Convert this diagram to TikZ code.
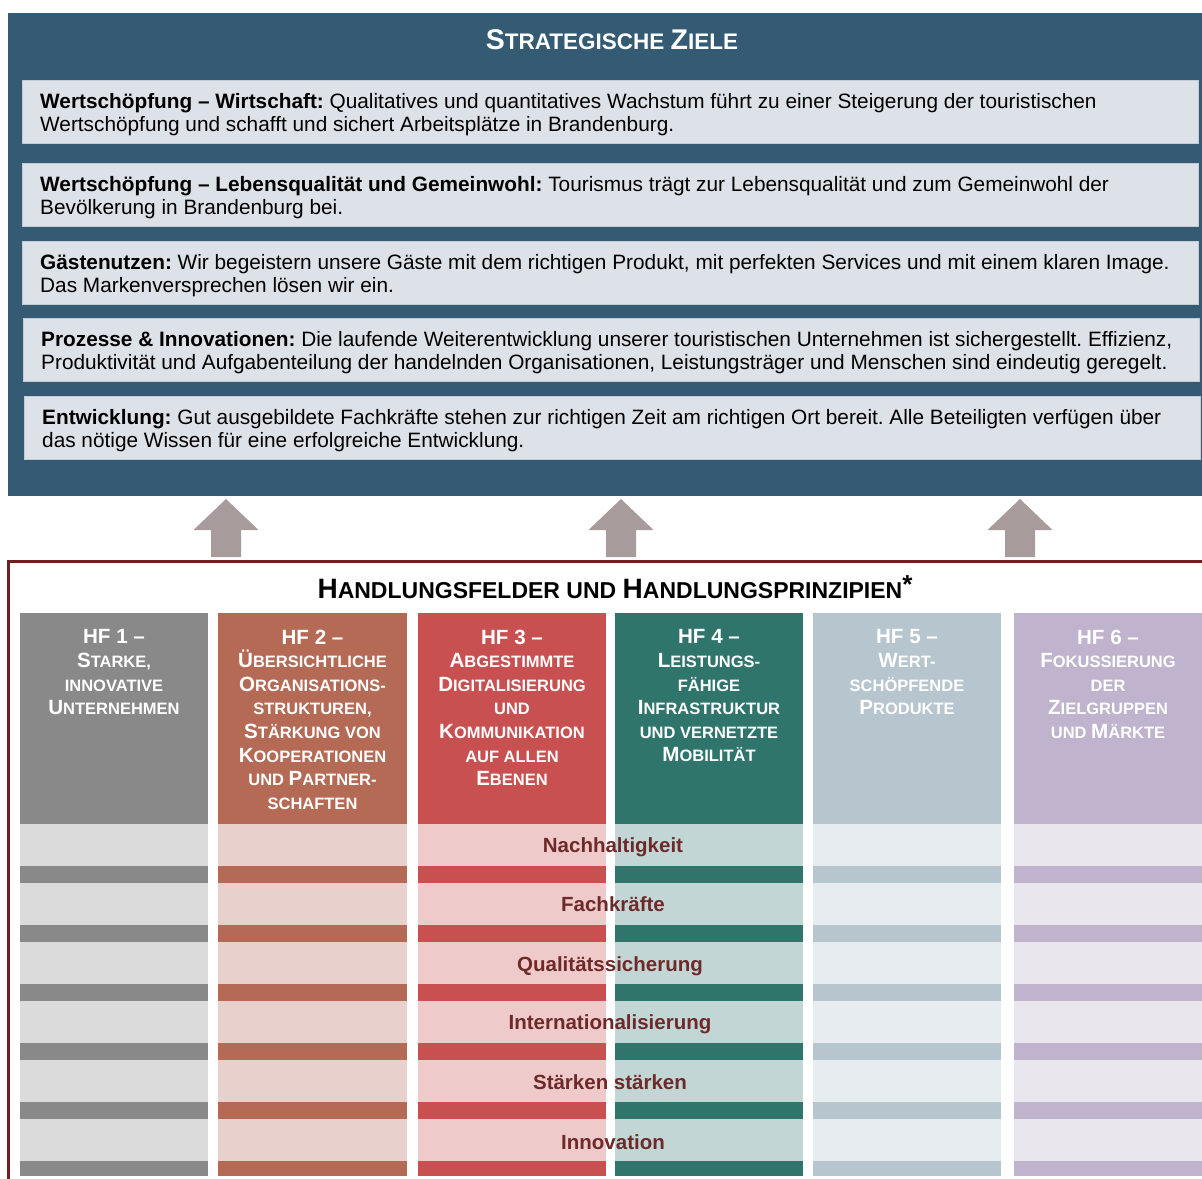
\documentclass[tikz,border=0pt]{standalone}
\usepackage{fontspec}
\setmainfont{Liberation Sans}
\frenchspacing
\definecolor{topblue}{HTML}{345B73}
\definecolor{goalfill}{HTML}{DDE1E8}
\definecolor{goalline}{HTML}{C3CCD5}
\definecolor{arrowc}{HTML}{A89B9B}
\definecolor{framec}{HTML}{6E1F1F}
\definecolor{labelc}{HTML}{6E2A2A}
\definecolor{dA}{HTML}{898989}\definecolor{lA}{HTML}{DBDBDB}
\definecolor{dB}{HTML}{B56A55}\definecolor{lB}{HTML}{E8D0CC}
\definecolor{dC}{HTML}{C95050}\definecolor{lC}{HTML}{EFCACA}
\definecolor{dD}{HTML}{30756C}\definecolor{lD}{HTML}{C2D7D5}
\definecolor{dE}{HTML}{B7C5CE}\definecolor{lE}{HTML}{E6ECEF}
\definecolor{dF}{HTML}{C0B3CD}\definecolor{lF}{HTML}{EAE6EE}
\newcommand\tsc[2]{{\fontsize{28.5}{30}\selectfont#1}{\fontsize{22.5}{30}\selectfont#2}}
\newcommand\bsc[2]{{\fontsize{28}{30}\selectfont#1}{\fontsize{23}{30}\selectfont#2}}
\newcommand\hsc[2]{{\fontsize{20.6}{23.6}\selectfont#1}{\fontsize{16.5}{23.6}\selectfont#2}}
\tikzset{
  goalbox/.style={fill=goalfill, draw=goalline, line width=0.8pt, inner sep=0pt, anchor=north west, minimum height=63pt},
  goaltext/.style={anchor=west, inner sep=0pt, align=left, font=\fontsize{20.8}{23}\selectfont, text=black},
  hftext/.style={anchor=north, inner sep=0pt, align=center, text=white, font=\bfseries\fontsize{20.6}{23.6}\selectfont},
  prin/.style={inner sep=0pt, text height=15pt, text depth=0pt, text=labelc, font=\bfseries\fontsize{20.5}{24}\selectfont},
  uparrow/.style={fill=arrowc}
}
\begin{document}
\begin{tikzpicture}[x=1pt,y=-1pt]
\useasboundingbox (0,0) rectangle (1202,1178);
% top panel
\node[fill=topblue, inner sep=0pt, anchor=north west, minimum width=1196pt, minimum height=483pt] (top) at (8,13) {};
\node[text=white, font=\bfseries, inner sep=0pt] (ttl) at (612,40) {\tsc{S}{TRATEGISCHE }\tsc{Z}{IELE}};
% goal boxes
\node[goalbox, minimum width=1176pt] (g1) at (22,80) {};
\node[goalbox, minimum width=1176pt] (g2) at (22,163) {};
\node[goalbox, minimum width=1176pt] (g3) at (22,241) {};
\node[goalbox, minimum width=1176pt] (g4) at (23,318) {};
\node[goalbox, minimum width=1176pt] (g5) at (24,396) {};
\node[goaltext] (t1) at ([xshift=18pt,yshift=-2.5pt]g1.west) {\textbf{Wertschöpfung – Wirtschaft:} Qualitatives und quantitatives Wachstum führt zu einer Steigerung der touristischen\\Wertschöpfung und schafft und sichert Arbeitsplätze in Brandenburg.};
\node[goaltext] (t2) at ([xshift=18pt,yshift=-2.5pt]g2.west) {\textbf{Wertschöpfung – Lebensqualität und Gemeinwohl:} Tourismus trägt zur Lebensqualität und zum Gemeinwohl der\\Bevölkerung in Brandenburg bei.};
\node[goaltext] (t3) at ([xshift=18pt,yshift=-2.5pt]g3.west) {\textbf{Gästenutzen:} Wir begeistern unsere Gäste mit dem richtigen Produkt, mit perfekten Services und mit einem klaren Image.\\Das Markenversprechen lösen wir ein.};
\node[goaltext] (t4) at ([xshift=18pt,yshift=-2.5pt]g4.west) {\textbf{Prozesse \& Innovationen:} Die laufende Weiterentwicklung unserer touristischen Unternehmen ist sichergestellt. Effizienz,\\Produktivität und Aufgabenteilung der handelnden Organisationen, Leistungsträger und Menschen sind eindeutig geregelt.};
\node[goaltext] (t5) at ([xshift=18pt,yshift=-2.5pt]g5.west) {\textbf{Entwicklung:} Gut ausgebildete Fachkräfte stehen zur richtigen Zeit am richtigen Ort bereit. Alle Beteiligten verfügen über\\das nötige Wissen für eine erfolgreiche Entwicklung.};
% arrows
\foreach \cx in {226,621,1020}{
  \fill[uparrow] (\cx-15,557) -- (\cx-15,530) -- (\cx-32.5,530) -- (\cx,499) -- (\cx+32.5,530) -- (\cx+15,530) -- (\cx+15,557) -- cycle;
}
% lower frame
\coordinate (fbl) at (8.5,1180);
\coordinate (ftl) at (8.5,561.5);
\coordinate (ftr) at (1204,561.5);
\draw[framec, line width=3pt] (fbl) -- (ftl) -- (ftr);
\node[font=\bfseries, inner sep=0pt] (ht) at (615,587) {\bsc{H}{ANDLUNGSFELDER UND }\bsc{H}{ANDLUNGSPRINZIPIEN}\raisebox{5pt}{\fontsize{26}{26}\selectfont*}};
% columns
\foreach \xa/\xb/\dc/\lc in {20/208/dA/lA, 218/407/dB/lB, 418/606/dC/lC, 615/803/dD/lD, 813/1001/dE/lE, 1014/1202/dF/lF}{
  \fill[\dc] (\xa,613) rectangle (\xb,824);
  \fill[\lc] (\xa,824) rectangle (\xb,1176);
  \foreach \k in {0,...,4}{
    \fill[\dc] (\xa,866+59*\k) rectangle (\xb,883+59*\k);
  }
  \fill[\dc] (\xa,1161) rectangle (\xb,1176);
}
\node[hftext] (h1) at (114,629.5) {HF 1 –\\\hsc{S}{TARKE,}\\\hsc{}{INNOVATIVE}\\\hsc{U}{NTERNEHMEN}};
\node[hftext] (h2) at (312.5,629.5) {HF 2 –\\\hsc{Ü}{BERSICHTLICHE}\\\hsc{O}{RGANISATIONS-}\\\hsc{}{STRUKTUREN,}\\\hsc{S}{TÄRKUNG VON}\\\hsc{K}{OOPERATIONEN}\\\hsc{}{UND }\hsc{P}{ARTNER-}\\\hsc{}{SCHAFTEN}};
\node[hftext] (h3) at (512,629.5) {HF 3 –\\\hsc{A}{BGESTIMMTE}\\\hsc{D}{IGITALISIERUNG}\\\hsc{}{UND}\\\hsc{K}{OMMUNIKATION}\\\hsc{}{AUF ALLEN}\\\hsc{E}{BENEN}};
\node[hftext] (h4) at (709,629.5) {HF 4 –\\\hsc{L}{EISTUNGS-}\\\hsc{}{FÄHIGE}\\\hsc{I}{NFRASTRUKTUR}\\\hsc{}{UND VERNETZTE}\\\hsc{M}{OBILITÄT}};
\node[hftext] (h5) at (907,629.5) {HF 5 –\\\hsc{W}{ERT-}\\\hsc{}{SCHÖPFENDE}\\\hsc{P}{RODUKTE}};
\node[hftext] (h6) at (1108,629.5) {HF 6 –\\\hsc{F}{OKUSSIERUNG}\\\hsc{}{DER}\\\hsc{Z}{IELGRUPPEN}\\\hsc{}{UND }\hsc{M}{ÄRKTE}};
% principles
\node[prin] (p1) at (613,845) {Nachhaltigkeit};
\node[prin] (p2) at (613,904) {Fachkräfte};
\node[prin] (p3) at (610,963.5) {Qualitätssicherung};
\node[prin] (p4) at (610,1022) {Internationalisierung};
\node[prin] (p5) at (610,1081.5) {Stärken stärken};
\node[prin] (p6) at (613,1141.5) {Innovation};
\end{tikzpicture}
\end{document}
